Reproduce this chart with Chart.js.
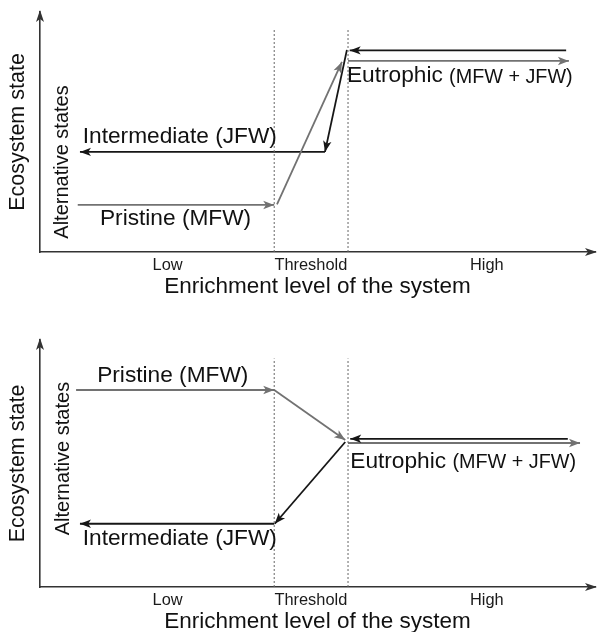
<!DOCTYPE html>
<html>
<head>
<meta charset="utf-8">
<script src="https://cdn.jsdelivr.net/npm/chart.js@4"></script>
<style>
  html, body { margin: 0; padding: 0; background: #fff; overflow: hidden; }
  #top-wrap { position: absolute; left: 0; top: 0; width: 598px; height: 305px; }
  #bottom-wrap { position: absolute; left: 0; top: 305px; width: 598px; height: 335px; }
</style>
</head>
<body>
<div id="top-wrap"><canvas id="top-chart"></canvas></div>
<div id="bottom-wrap"><canvas id="bottom-chart"></canvas></div>
<script>
// enrichment axis (0-100) and ecosystem-state axis (0-100)
const tickValues = [23, 48.8, 80.5];
const tickLabels = ['Low', 'Threshold', 'High'];
const thresholds = [42.2, 55.5];
const thresholdTop = 92.5;

// top panel: hysteresis loop
const topPristine = [[6.8, 19.6], [42.2, 19.6]];
const topShift = [[42.7, 19.8], [54.4, 79.2]];
const topEutroOut = [[55.5, 79.6], [95.3, 79.6]];
const topEutroBack = [[94.8, 84], [55.8, 84]];
const topRecover = [[55.3, 84.2], [51.35, 41.7]];
const topIntermediate = [[51.35, 41.7], [7.2, 41.7]];

// bottom panel: two states converge
const botPristine = [[6.5, 79.75], [42.2, 79.75]];
const botShift = [[42.2, 79.75], [55, 59.5]];
const botEutroOut = [[55.5, 58.3], [97.3, 58.3]];
const botEutroBack = [[95.1, 60], [55.9, 60]];
const botRecover = [[55, 58.7], [42.3, 25.6]];
const botIntermediate = [[42.2, 25.6], [7.2, 25.6]];

const stateLabels = ['Pristine (MFW)', 'Intermediate (JFW)', 'Eutrophic', '(MFW + JFW)', 'Alternative states'];

const GREY = '#727272';
const BLACK = '#161616';
const AXIS = '#333';
const FONT = '"Liberation Sans", Arial, sans-serif';

Chart.defaults.font.family = FONT;
Chart.defaults.color = '#1a1a1a';

const seg = (pts, color) => ({
  data: pts.map(([x, y]) => ({ x, y })),
  borderColor: color,
  backgroundColor: color,
  borderWidth: 1.8,
  pointRadius: 0,
  tension: 0,
  arrow: true,
});

const dashed = (x) => ({
  data: [{ x, y: 0 }, { x, y: thresholdTop }],
  borderColor: '#666',
  borderWidth: 1,
  borderDash: [2, 2],
  pointRadius: 0,
});

const drawHead = (ctx, x, y, ang, color, len = 11, half = 4.2) => {
  ctx.save();
  ctx.translate(x, y);
  ctx.rotate(ang);
  ctx.fillStyle = color;
  ctx.beginPath();
  ctx.moveTo(0, 0);
  ctx.lineTo(-len, -half);
  ctx.lineTo(-len * 0.75, 0);
  ctx.lineTo(-len, half);
  ctx.closePath();
  ctx.fill();
  ctx.restore();
};

const arrowPlugin = {
  id: 'arrows',
  afterDatasetsDraw(chart) {
    const ctx = chart.ctx;
    chart.data.datasets.forEach((ds, i) => {
      if (!ds.arrow) return;
      const pts = chart.getDatasetMeta(i).data;
      const a = pts[pts.length - 2];
      const b = pts[pts.length - 1];
      drawHead(ctx, b.x, b.y, Math.atan2(b.y - a.y, b.x - a.x), ds.borderColor);
    });
    const { left, right, top, bottom } = chart.chartArea;
    drawHead(ctx, left, top - 2, -Math.PI / 2, AXIS, 12, 4);
    drawHead(ctx, right + 2, bottom, 0, AXIS, 12, 4);

    const sx = chart.scales.x;
    const sy = chart.scales.y;
    ctx.save();
    ctx.fillStyle = '#111';
    ctx.textBaseline = 'middle';
    (chart.options.plugins.notes || []).forEach((n) => {
      const px = sx.getPixelForValue(n.x);
      const py = sy.getPixelForValue(n.y);
      ctx.font = (n.size || 22.7) + 'px ' + FONT;
      if (n.vertical) {
        ctx.save();
        ctx.translate(px, py);
        ctx.rotate(-Math.PI / 2);
        ctx.textAlign = 'center';
        ctx.fillText(n.text, 0, 0);
        ctx.restore();
        return;
      }
      ctx.textAlign = 'left';
      ctx.fillText(n.text, px, py);
      if (n.suffix) {
        const w = ctx.measureText(n.text + ' ').width;
        ctx.font = '19.8px ' + FONT;
        ctx.fillText(n.suffix, px + w, py + 1);
      }
    });
    ctx.restore();
  },
};

const makeChart = (id, datasets, notes, padTop, titlePad) => {
  return new Chart(document.getElementById(id), {
    type: 'line',
    data: { datasets: [dashed(thresholds[0]), dashed(thresholds[1]), ...datasets] },
    plugins: [arrowPlugin],
    options: {
      animation: false,
      responsive: true,
      maintainAspectRatio: false,
      layout: { padding: { top: padTop, right: 3, left: 0, bottom: 0 } },
      plugins: {
        legend: { display: false },
        tooltip: { enabled: false },
        notes,
      },
      scales: {
        x: {
          type: 'linear',
          min: 0,
          max: 100,
          grid: { display: false, drawTicks: false },
          border: { display: true, color: AXIS, width: 1.6 },
          afterBuildTicks: (axis) => {
            axis.ticks = tickValues.map((v) => ({ value: v }));
          },
          afterFit: (scale) => { scale.height = 53; },
          ticks: {
            padding: 4,
            color: '#1a1a1a',
            font: { size: 16.4 },
            maxRotation: 0,
            autoSkip: false,
            callback: (v) => tickLabels[tickValues.indexOf(v)],
          },
          title: {
            display: true,
            text: 'Enrichment level of the system',
            color: '#111',
            font: { size: 22.5 },
            padding: { top: 0, bottom: titlePad },
          },
        },
        y: {
          type: 'linear',
          min: 0,
          max: 100,
          grid: { display: false, drawTicks: false },
          border: { display: true, color: AXIS, width: 1.6 },
          ticks: { display: false },
          afterFit: (scale) => { scale.width = 40; },
          title: {
            display: true,
            text: 'Ecosystem state',
            color: '#111',
            font: { size: 21.5 },
            padding: { top: 5.2, bottom: 0 },
          },
        },
      },
    },
  });
};

makeChart('top-chart', [
  seg(topPristine, GREY),
  seg(topShift, GREY),
  seg(topEutroOut, GREY),
  seg(topEutroBack, BLACK),
  seg(topRecover, BLACK),
  seg(topIntermediate, BLACK),
], [
  { text: stateLabels[1], x: 7.7, y: 47.9 },
  { text: stateLabels[0], x: 10.8, y: 13.75 },
  { text: stateLabels[2], suffix: stateLabels[3], x: 55.3, y: 73.3 },
  { text: stateLabels[4], x: 4.0, y: 37.5, vertical: true, size: 20 },
], 12, 4.4);

makeChart('bottom-chart', [
  seg(botPristine, GREY),
  seg(botShift, GREY),
  seg(botEutroOut, GREY),
  seg(botEutroBack, BLACK),
  seg(botRecover, BLACK),
  seg(botIntermediate, BLACK),
], [
  { text: stateLabels[0], x: 10.3, y: 85.5 },
  { text: stateLabels[1], x: 7.7, y: 19.4 },
  { text: stateLabels[2], suffix: stateLabels[3], x: 55.9, y: 50.8 },
  { text: stateLabels[4], x: 4.3, y: 52, vertical: true, size: 20 },
], 35, 4.8);
</script>
</body>
</html>
